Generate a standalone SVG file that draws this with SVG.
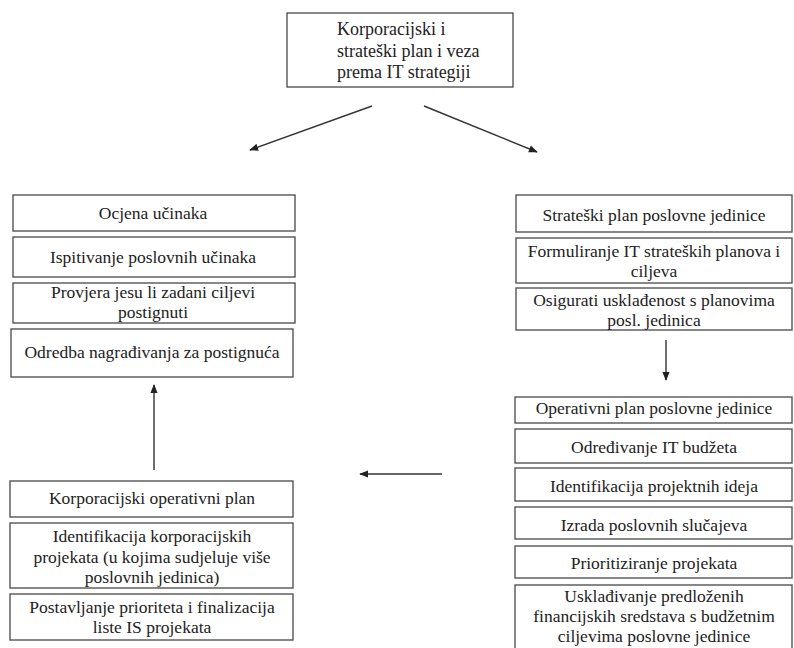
<svg xmlns="http://www.w3.org/2000/svg" width="794" height="648" viewBox="0 0 794 648">
<style>
rect{fill:#fff;stroke:#555;stroke-width:1.4}
text{font-family:"Liberation Serif","Times New Roman",serif;font-size:17.5px;fill:#222;text-anchor:middle}
.l{text-anchor:start;font-size:18px}
.c{stroke:#333;stroke-width:1.4;fill:none;marker-end:url(#ah)}
</style>
<defs>
<marker id="ah" viewBox="0 0 10 10" refX="9" refY="5" markerWidth="9" markerHeight="9" markerUnits="userSpaceOnUse" orient="auto">
<path d="M0,1 L10,5 L0,9 z" fill="#222"/>
</marker>
</defs>
<rect width="794" height="648" style="stroke:none"/>
<g id="top">
<rect x="287" y="13" width="226" height="74"/>
<text class="l" x="337" y="35">Korporacijski i</text>
<text class="l" x="337" y="57">strateški plan i veza</text>
<text class="l" x="337" y="78">prema IT strategiji</text>
</g>
<g id="ocjena">
<rect x="13" y="195" width="282" height="36"/>
<text x="153" y="219">Ocjena učinaka</text>
</g>
<g id="ispitivanje">
<rect x="13" y="237" width="282" height="40"/>
<text x="153" y="263">Ispitivanje poslovnih učinaka</text>
</g>
<g id="provjera">
<rect x="13" y="283" width="282" height="40"/>
<text x="153" y="298">Provjera jesu li zadani ciljevi</text>
<text x="153" y="318">postignuti</text>
</g>
<g id="odredba">
<rect x="11" y="329" width="282" height="48"/>
<text x="152" y="358">Odredba nagrađivanja za postignuća</text>
</g>
<g id="korp-operativni">
<rect x="10" y="481" width="283" height="36"/>
<text x="152" y="504">Korporacijski operativni plan</text>
</g>
<g id="identifikacija-korp">
<rect x="10" y="523" width="283" height="65"/>
<text x="152" y="542">Identifikacija korporacijskih</text>
<text x="152" y="563">projekata (u kojima sudjeluje više</text>
<text x="152" y="583">poslovnih jedinica)</text>
</g>
<g id="postavljanje">
<rect x="10" y="594" width="283" height="46"/>
<text x="152" y="613">Postavljanje prioriteta i finalizacija</text>
<text x="152" y="633">liste IS projekata</text>
</g>
<g id="strateski-plan">
<rect x="516" y="195" width="276" height="37"/>
<text x="654" y="221">Strateški plan poslovne jedinice</text>
</g>
<g id="formuliranje">
<rect x="516" y="238" width="276" height="45"/>
<text x="654" y="257">Formuliranje IT strateških planova i</text>
<text x="654" y="277">ciljeva</text>
</g>
<g id="osigurati">
<rect x="516" y="288" width="276" height="42"/>
<text x="654" y="306">Osigurati usklađenost s planovima</text>
<text x="654" y="326">posl. jedinica</text>
</g>
<g id="operativni">
<rect x="515" y="397" width="277" height="26"/>
<text x="654" y="414">Operativni plan poslovne jedinice</text>
</g>
<g id="budzet">
<rect x="515" y="429" width="277" height="34"/>
<text x="654" y="453">Određivanje IT budžeta</text>
</g>
<g id="ideje">
<rect x="515" y="468" width="277" height="33"/>
<text x="654" y="492">Identifikacija projektnih ideja</text>
</g>
<g id="slucajevi">
<rect x="515" y="507" width="277" height="32"/>
<text x="654" y="531">Izrada poslovnih slučajeva</text>
</g>
<g id="prioritiziranje">
<rect x="515" y="546" width="277" height="32"/>
<text x="654" y="569">Prioritiziranje projekata</text>
</g>
<g id="uskladivanje">
<rect x="515" y="585" width="277" height="66"/>
<text x="654" y="602">Usklađivanje predloženih</text>
<text x="654" y="622">financijskih sredstava s budžetnim</text>
<text x="654" y="642">ciljevima poslovne jedinice</text>
</g>
<g id="connectors">
<line class="c" x1="372" y1="106" x2="250" y2="150"/>
<line class="c" x1="424" y1="106" x2="537" y2="152"/>
<line class="c" x1="666" y1="340" x2="666" y2="380"/>
<line class="c" x1="442" y1="474" x2="360" y2="474"/>
<line class="c" x1="154" y1="470" x2="154" y2="385"/>
</g>
</svg>
